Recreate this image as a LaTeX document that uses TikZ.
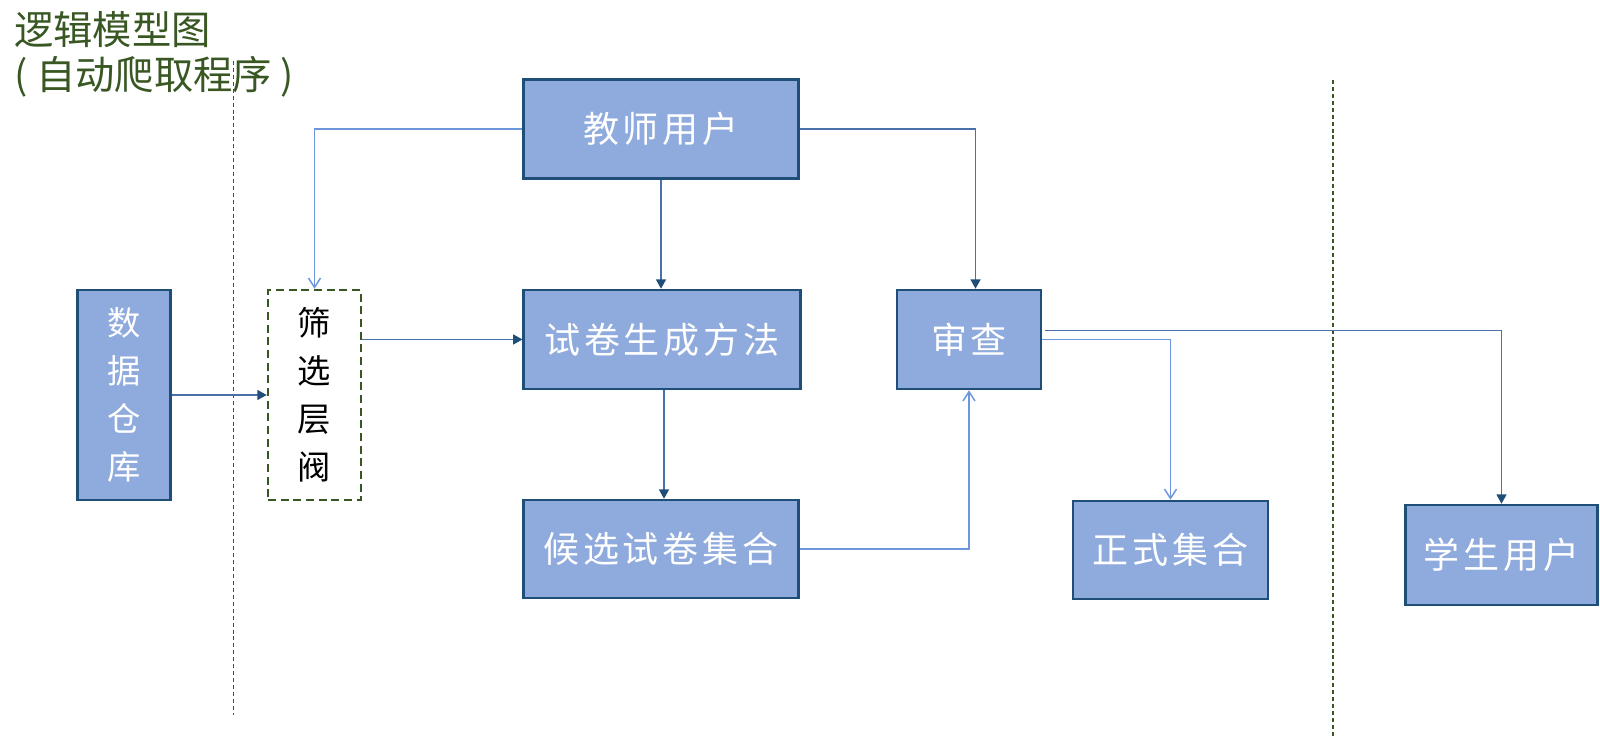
\documentclass[tikz,border=0pt]{standalone}
\usepackage{fontspec}
\newfontfamily\cjk{Noto Sans CJK SC}
\newfontfamily\cjkls[LetterSpace=11]{Noto Sans CJK SC}
\usetikzlibrary{arrows.meta,calc}
\definecolor{boxfill}{RGB}{143,170,220}
\definecolor{boxline}{RGB}{31,78,121}
\definecolor{tgreen}{RGB}{56,87,35}
\definecolor{lineA}{RGB}{74,112,170}
\definecolor{lineB}{RGB}{110,150,220}
\definecolor{tipA}{RGB}{31,78,121}
\begin{document}
\begin{tikzpicture}[x=0.75pt,y=-0.75pt,
  bluebox/.style={draw=boxline,line width=1.9pt,fill=boxfill,inner sep=0pt,text=white,
    font=\cjkls\fontsize{27}{30}\selectfont},
  vbox/.style={draw=boxline,line width=1.9pt,fill=boxfill,inner sep=0pt,text=white,align=center,
    font=\cjk\fontsize{25}{36}\selectfont},
  dbox/.style={draw=tgreen,line width=1.9pt,dash pattern=on 6pt off 3.5pt,inner sep=0pt,text=black,align=center,
    font=\cjk\fontsize{25}{36}\selectfont},
  sepline/.style={draw=tgreen,line width=1.1pt,dash pattern=on 3pt off 2.2pt},
  conA/.style={draw=lineA,line width=1.1pt,-{Triangle[width=7.5pt,length=7pt,color=tipA]}},
  conB/.style={draw=lineB,line width=1.1pt,-{Straight Barb[width=9pt,length=7pt]}},
  titletext/.style={anchor=west,text=tgreen,inner sep=0pt,font=\cjk\fontsize{29.5}{34}\selectfont}]
\useasboundingbox (0,0) rectangle (1600,738);
% title
\node[titletext] (t1) at (14,30) {逻辑模型图};
\node[titletext] (t2) at (14,77) {(\hspace{0.22em}自动爬取程序\hspace{0.22em})};
% separator lines
\coordinate (s1a) at (233.5,61);
\coordinate (s1b) at (233.5,715);
\coordinate (s2a) at (1333,80);
\coordinate (s2b) at (1333,738);
\draw[sepline] (s1a) -- (s1b);
\draw[sepline] (s2a) -- (s2b);
% boxes
\node[bluebox,minimum width=206.6pt,minimum height=74.3pt] (tea) at (661,129) {教师用户};
\node[bluebox,minimum width=207.4pt,minimum height=74.3pt] (gen) at (662,339.5) {试卷生成方法};
\node[bluebox,minimum width=206.6pt,minimum height=73.5pt] (cand) at (661,549) {候选试卷集合};
\node[bluebox,minimum width=108pt,minimum height=74.3pt] (rev) at (969,339.5) {审查};
\node[bluebox,minimum width=146pt,minimum height=73.5pt] (formal) at (1170.5,550) {正式集合};
\node[bluebox,minimum width=144pt,minimum height=75pt] (stu) at (1501.5,555) {学生用户};
\node[vbox,minimum width=69.4pt,minimum height=157.5pt] (db) at (124,395) {数\\据\\仓\\库};
\node[dbox,minimum width=69.8pt,minimum height=157.5pt] (filt) at (314.5,395) {筛\\选\\层\\阀};
% connectors
\draw[conA] (db.east) -- (filt.west);
\draw[conB] (tea.west) -| (filt.north);
\draw[conA] (tea.south) -- (tea.south |- gen.north);
\draw[conA] (tea.east) -| ([xshift=4.9pt]rev.north);
\draw[conA] (filt.east |- gen.west) -- (gen.west);
\draw[conA] ([xshift=1.5pt]gen.south) -- ([xshift=1.5pt]gen.south |- cand.north);
\draw[conB] (cand.east) -| (rev.south);
\draw[conB] (rev.east) -| (formal.north);
\draw[conA] ([shift={(2.2pt,6.6pt)}]rev.east) -| (stu.north);
\end{tikzpicture}
\end{document}
